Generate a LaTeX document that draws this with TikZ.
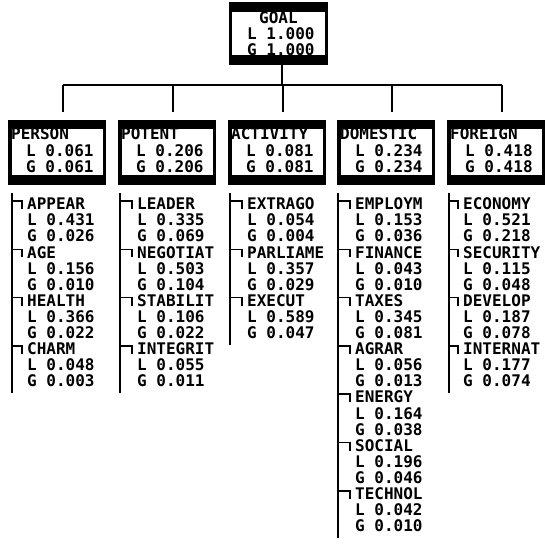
\documentclass[tikz,border=0pt]{standalone}
\usepackage{fontspec}
\setmonofont{DejaVu Sans Mono}
\usetikzlibrary{positioning}

\tikzset{
  txt/.style={font=\ttfamily\bfseries\fontsize{16}{16}\selectfont, inner sep=0pt,
    text height=11.5pt, text depth=0pt, anchor=west},
  band/.style={fill=black, inner sep=0pt, anchor=north west},
  hole/.style={fill=white, inner sep=0pt, anchor=north west},
  wire/.style={line width=1.5pt},
}

% sub-criteria of one box: prefix, spine x, text x, count, items
\newcommand{\subcol}[5]{%
  \pgfmathsetmacro\yb{204+16.1*(3*#4-1)+12}
  \coordinate (#1-top) at (#2,193);
  \coordinate (#1-bot) at (#2,\yb);
  \draw[wire] (#1-top) -- (#1-bot);
  \foreach \nm/\lv/\gv [count=\k from 0] in {#5} {
    \pgfmathsetmacro\y{204+16.1*3*\k}
    \node[txt] (#1-n\k) at (#3,\y) {\nm};
    \node[txt] (#1-l\k) at (#3,\y+16.1) {L \lv};
    \node[txt] (#1-g\k) at (#3,\y+32.2) {G \gv};
    \coordinate (#1-h\k) at (#2,\y-3);
    \draw[wire] (#1-h\k) -| ([shift={(-5pt,-5pt)}]#1-n\k.west);
  }
}

\begin{document}
\begin{tikzpicture}[x=1pt,y=-1pt]
    \useasboundingbox (0,0) rectangle (545,544);

    % Goal
    \node[band, minimum width=99pt, minimum height=63pt] (goal) at (229,2) {};
    \node[hole, minimum width=93pt, minimum height=43pt] (goal-in) at (232,12) {};
    \node[txt] (goal-name) at (259,18) {GOAL};
    \node[txt] (goal-l) at (247,34) {L 1.000};
    \node[txt] (goal-g) at (247,50) {G 1.000};

    % Criteria boxes
    \coordinate (bus) at (282,85);
    \foreach \x/\nm/\lab/\val in {8/person/PERSON/0.061, 118/potent/POTENT/0.206,
        228/activity/ACTIVITY/0.081, 337/domestic/DOMESTIC/0.234, 447/foreign/FOREIGN/0.418} {
        \node[band, minimum width=98pt, minimum height=65pt] (\nm) at (\x,120) {};
        \node[hole, minimum width=91pt, minimum height=46pt] (\nm-in) at (\x+4,129) {};
        \node[txt] (\nm-name) at (\x+3,134) {\lab};
        \node[txt] (\nm-l) at (\x+18,151) {L \val};
        \node[txt] (\nm-g) at (\x+18,167) {G \val};
        \coordinate (\nm-drop) at (\x+55,112);
        \draw[wire] (\nm-drop |- bus) -- (\nm-drop);
    }

    % Tree lines
    \draw[wire] (goal.south -| bus) -- (bus);
    \draw[wire] (person-drop |- bus) -- (foreign-drop |- bus);

    % Sub-criteria
    \subcol{person}{12}{27}{4}{APPEAR/0.431/0.026, AGE/0.156/0.010, HEALTH/0.366/0.022, CHARM/0.048/0.003}
    \subcol{potent}{120}{137}{4}{LEADER/0.335/0.069, NEGOTIAT/0.503/0.104, STABILIT/0.106/0.022, INTEGRIT/0.055/0.011}
    \subcol{activity}{230}{247}{3}{EXTRAGO/0.054/0.004, PARLIAME/0.357/0.029, EXECUT/0.589/0.047}
    \subcol{domestic}{338}{355}{7}{EMPLOYM/0.153/0.036, FINANCE/0.043/0.010, TAXES/0.345/0.081,
        AGRAR/0.056/0.013, ENERGY/0.164/0.038, SOCIAL/0.196/0.046, TECHNOL/0.042/0.010}
    \subcol{foreign}{449}{463}{4}{ECONOMY/0.521/0.218, SECURITY/0.115/0.048, DEVELOP/0.187/0.078, INTERNAT/0.177/0.074}
\end{tikzpicture}
\end{document}
